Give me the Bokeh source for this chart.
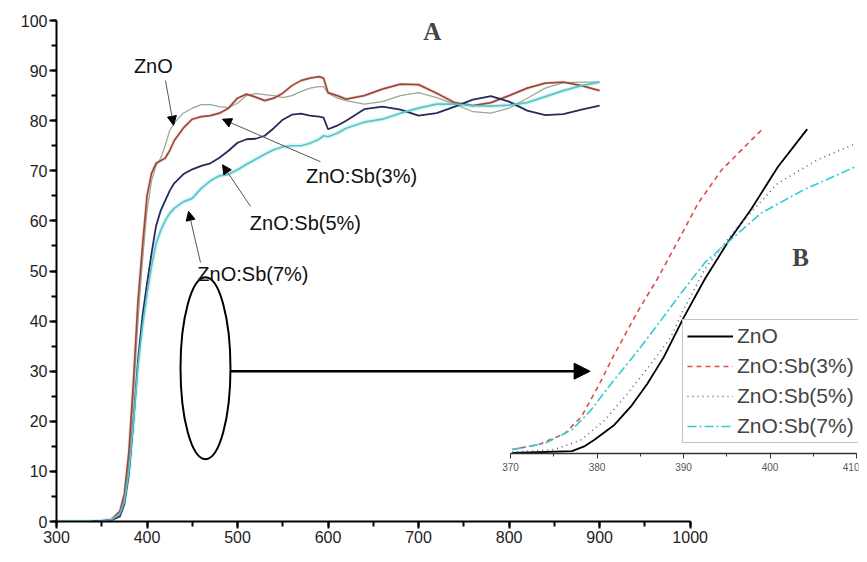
from bokeh.plotting import figure
from bokeh.models import (Range1d, LinearAxis, SingleIntervalTicker, Label, Arrow,
                          NormalHead, Legend, LegendItem)
from bokeh.embed import file_html
from bokeh.resources import INLINE

# ---------------- data: main panel (A) ----------------
wl = [340, 360, 370, 375, 380, 385, 390, 395, 400, 405, 410, 415, 420, 425, 430,
      440, 450, 460, 470, 480, 490, 500, 510, 520, 530, 540, 550, 560, 570, 580,
      590, 595, 600, 610, 620, 640, 660, 680, 700, 720, 740, 760, 780, 800, 820,
      840, 860, 880, 900]
znO = [0, 0.3, 1.5, 4.5, 12, 25, 40, 52, 62, 68, 71, 72.5, 75, 78, 79.5,
       81.5, 82.5, 83.2, 83.2, 82.8, 82.6, 83.5, 85, 85.4, 85.2, 85, 84.6, 85, 85.8, 86.5,
       86.8, 86.8, 85.5, 84.5, 84, 83.3, 83.8, 85, 85.6, 84.6, 83.3, 81.8, 81.5, 82.5, 84.5,
       86.5, 87.6, 87.7, 87.7]
sb3 = [0, 0.3, 2, 5.5, 14, 28, 44, 55, 65, 69.5, 71.5, 72, 72.5, 74, 76,
       78.5, 80.3, 80.8, 81, 81.5, 82.5, 84.5, 85.3, 84.7, 84, 84.5, 85.5, 87, 88, 88.5,
       88.8, 88.5, 85.6, 85, 84.3, 85, 86.3, 87.3, 87.2, 85.5, 83.6, 83, 83.6, 85, 86.5,
       87.5, 87.7, 87, 86]
sb5 = [0, 0.2, 1, 3.5, 9.5, 20, 32, 41, 47.5, 53.5, 59, 62, 64, 66, 67.5,
       69.3, 70.3, 71, 71.5, 72.6, 74, 75.6, 76.3, 76.4, 77, 78.5, 80.2, 81.2, 81.4, 81,
       80.8, 80.6, 78.3, 79, 80, 82.3, 82.8, 82.2, 81, 81.5, 82.8, 84.2, 84.9, 83.8, 82,
       81.1, 81.3, 82.2, 83]
wl7 = [300, 320] + wl
sb7 = [0, 0] + [0, 0.3, 1.5, 4, 10, 20, 31, 39, 45.5, 51, 55.5, 58, 60, 61.5, 62.5,
                63.8, 64.5, 66.5, 68, 69, 69.3, 70.2, 71.3, 72.3, 73.3, 74.2, 74.8, 75, 75, 75.5,
                76.3, 77, 76.8, 77.5, 78.5, 79.7, 80.3, 81.5, 82.5, 83.3, 83.3, 83, 82.9, 83.1, 83.6,
                84.8, 86, 87, 87.7]

# ---------------- data: inset (B) ----------------
in_zno_x = [370.2, 377.1, 378.6, 379.7, 382, 383.9, 385.8, 387.7, 390, 392.5, 395.1, 397.8, 400.9, 404.3]
in_zno_y = [0.1, 0.5, 1.5, 2.8, 5.8, 9.5, 14.1, 19.5, 27.5, 35.5, 42.8, 49.5, 58.1, 65.8]
in_sb3_x = [370.2, 373.2, 376.3, 378.2, 380.1, 382, 384.7, 387, 389.7, 391.7, 394.4, 397, 399.3]
in_sb3_y = [0.8, 1.8, 4.1, 7.5, 13.5, 20.1, 28.8, 35.5, 44.2, 50.8, 57.5, 62.1, 66.1]
in_sb5_x = [370.2, 375.1, 378.2, 380.9, 383.5, 386.2, 388.5, 390, 392.5, 396.3, 400.9, 405.4, 409.8]
in_sb5_y = [0.3, 0.8, 2.8, 6.8, 12.1, 18.1, 23.5, 29.2, 37.5, 46.1, 54.8, 59.5, 62.8]
in_sb7_x = [370.2, 374, 377.1, 379.3, 381.6, 384.7, 387.3, 389.7, 392.5, 395.1, 399, 403.9, 409.8]
in_sb7_y = [0.8, 2.1, 4.8, 8.8, 14.1, 20.8, 26.8, 32.5, 38.8, 42.8, 48.8, 53.5, 58.1]

labels = ["ZnO", "ZnO:Sb(3%)", "ZnO:Sb(5%)", "ZnO:Sb(7%)"]

SANS = "Liberation Sans"
SERIF = "Liberation Serif"

p = figure(width=859, height=546, output_backend="svg", toolbar_location=None,
           x_range=Range1d(300, 1186), y_range=Range1d(0, 100),
           min_border_left=56, min_border_right=1, min_border_top=20, min_border_bottom=25,
           x_axis_location=None, y_axis_location=None)
p.outline_line_color = None
p.xgrid.visible = False
p.ygrid.visible = False
p.background_fill_color = "white"

# main axes
xax = LinearAxis(ticker=SingleIntervalTicker(interval=100, num_minor_ticks=2), bounds=(300, 1000))
yax = LinearAxis(ticker=SingleIntervalTicker(interval=10, num_minor_ticks=2), bounds=(0, 100))
for ax in (xax, yax):
    ax.axis_line_width = 2
    ax.axis_line_color = "black"
    ax.major_tick_line_width = 2
    ax.minor_tick_line_width = 2
    ax.major_tick_in = 0
    ax.minor_tick_in = 0
    ax.major_tick_out = 7
    ax.minor_tick_out = 5
    ax.major_label_text_font = SANS
    ax.major_label_text_font_size = "16px"
    ax.major_label_text_color = "#222222"
    ax.major_label_standoff = 2
p.add_layout(xax, "below")
p.add_layout(yax, "left")

# main curves
p.line(wl, sb3, line_color="#f0b4ac", line_width=3.5, line_alpha=0.35)
p.line(wl7, sb7, line_color="#a8ecf0", line_width=4.5, line_alpha=0.45)
p.line(wl, znO, line_color="#98a894", line_width=1.2)
p.line(wl, sb3, line_color="#9a4a3c", line_width=1.7)
p.line(wl, sb5, line_color="#262a5c", line_width=1.8)
p.line(wl7, sb7, line_color="#5cc4c8", line_width=1.7)

# annotations with arrows (positions)
ann = [("ZnO", 407, 90.9, 420.4, 88.0, 429.3, 79.1),
       ("ZnO:Sb(3%)", 637, 69.0, 591.7, 71.8, 483.4, 80.3),
       ("ZnO:Sb(5%)", 575, 59.6, 514.4, 62.9, 483.4, 71.2),
       ("ZnO:Sb(7%)", 517, 49.5, 459.1, 51.7, 445.9, 61.9)]
for txt, tx, ty, x0, y0, x1, y1 in ann:
    p.add_layout(Label(x=tx, y=ty, text=txt, text_font=SANS, text_font_size="20px",
                       text_align="center", text_baseline="middle", text_color="#111111"))
    p.add_layout(Arrow(x_start=x0, y_start=y0, x_end=x1, y_end=y1, line_color="#555555",
                       line_width=1,
                       end=NormalHead(size=9, fill_color="black", line_color="black")))

p.add_layout(Label(x=715, y=97.8, text="A", text_font=SERIF, text_font_style="bold",
                   text_font_size="25px", text_align="center", text_baseline="middle"))
p.add_layout(Label(x=1122, y=52.7, text="B", text_font=SERIF, text_font_style="bold",
                   text_font_size="25px", text_align="center", text_baseline="middle"))

# ellipse + big arrow
p.ellipse(x=[464.6], y=[30.6], width=55.2, height=36.3, fill_color=None,
          line_color="black", line_width=2)
p.add_layout(Arrow(x_start=491.7, y_start=30.0, x_end=889.5, y_end=30.0, line_color="black",
                   line_width=2.5,
                   end=NormalHead(size=16, fill_color="black", line_color="black")))

# ---------------- inset ----------------
p.extra_x_ranges = {"inset": Range1d(317.51, 410.23)}
p.extra_y_ranges = {"inset": Range1d(-13.79, 87.83)}
inax = LinearAxis(x_range_name="inset", y_range_name="inset", fixed_location=0,
                  bounds=(370, 410), ticker=SingleIntervalTicker(interval=10, num_minor_ticks=2))
inax.axis_line_width = 1.5
inax.axis_line_color = "#333333"
inax.major_tick_line_color = "#333333"
inax.minor_tick_line_color = "#333333"
inax.major_tick_in = 0
inax.minor_tick_in = 0
inax.major_tick_out = 5
inax.minor_tick_out = 3
inax.major_label_text_font = SANS
inax.major_label_text_font_size = "10px"
inax.major_label_text_color = "#555555"
inax.major_label_standoff = 4
p.add_layout(inax, "below")

r0 = p.line(in_zno_x, in_zno_y, x_range_name="inset", y_range_name="inset",
            line_color="black", line_width=1.8)
r1 = p.line(in_sb3_x, in_sb3_y, x_range_name="inset", y_range_name="inset",
            line_color="#e04a4a", line_width=1.6, line_dash="5 4")
r2 = p.line(in_sb5_x, in_sb5_y, x_range_name="inset", y_range_name="inset",
            line_color="#5a5aa0", line_width=1.6, line_dash="1 4")
r3 = p.line(in_sb7_x, in_sb7_y, x_range_name="inset", y_range_name="inset",
            line_color="#30ccd4", line_width=1.6, line_dash="9 3 2 3")

legend = Legend(items=[LegendItem(label=l, renderers=[r]) for l, r in zip(labels, [r0, r1, r2, r3])],
                location=(626, 78), label_text_font=SANS, label_text_font_size="21px",
                glyph_width=46, glyph_height=22, label_height=24, spacing=6, padding=4,
                margin=0, label_standoff=4, border_line_color="#888888", border_line_width=1.5,
                background_fill_color="white", background_fill_alpha=1)
p.add_layout(legend, "center")

open("out.html", "w").write(file_html(p, INLINE))
